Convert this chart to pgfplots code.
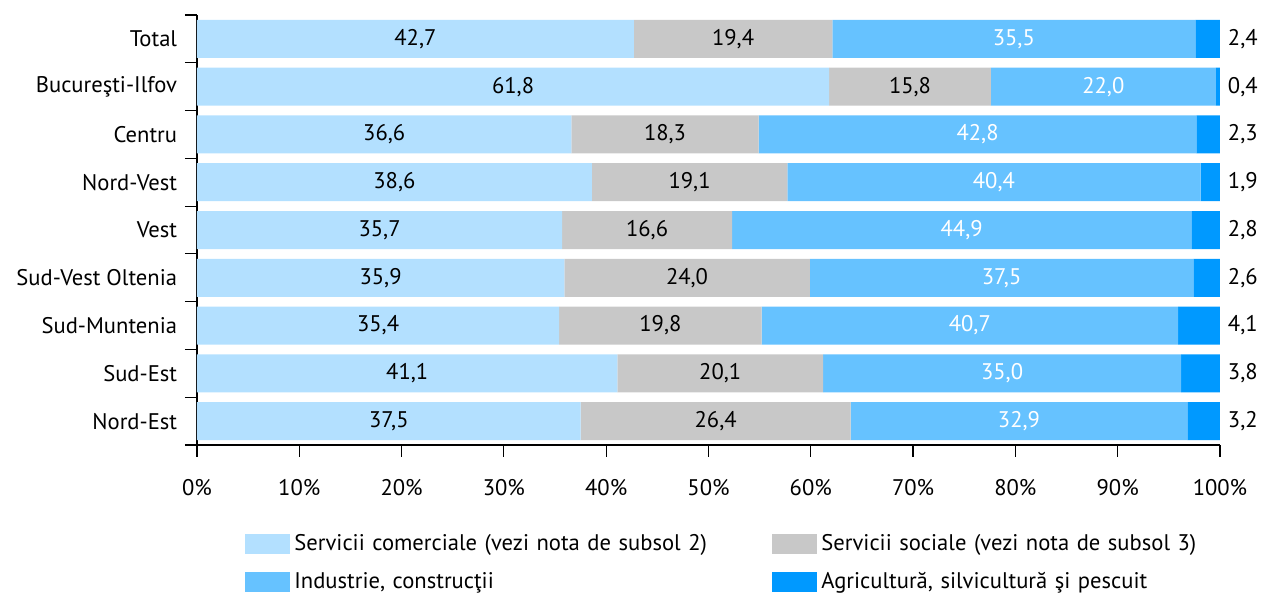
\documentclass[border=0pt]{standalone}
\usepackage{fontspec}
\setmainfont{PT Sans}
\usepackage{pgfplots}
\usepackage{pgfplotstable}
\pgfplotsset{compat=1.18}
\definecolor{comBlue}{RGB}{179,224,255}
\definecolor{socGray}{RGB}{200,200,200}
\definecolor{indBlue}{RGB}{102,194,255}
\definecolor{agrBlue}{RGB}{0,153,255}

% y: 8 = Total (top) ... 0 = Nord-Est (bottom)
\pgfplotstableread{
y com soc ind agr
8 42.7 19.4 35.5 2.4
7 61.8 15.8 22.0 0.4
6 36.6 18.3 42.8 2.3
5 38.6 19.1 40.4 1.9
4 35.7 16.6 44.9 2.8
3 35.9 24.0 37.5 2.6
2 35.4 19.8 40.7 4.1
1 41.1 20.1 35.0 3.8
0 37.5 26.4 32.9 3.2
}\regdata

\pgfplotsset{
  frame/.style={scale only axis, width=511.5pt, height=215pt,
    xmin=0, xmax=100, ymin=-0.5, ymax=8.5},
  lbl/.style={only marks, mark=none, point meta=explicit,
    nodes near coords={\pgfmathprintnumber[fixed,fixed zerofill,precision=1,use comma]{\pgfplotspointmeta}},
    nodes near coords style={font=\fontsize{11.3}{13.5}\selectfont, anchor=center, text=#1}},
}

\begin{document}
\fontsize{11.3}{13.5}\selectfont
\begin{tikzpicture}
\useasboundingbox (-98.5pt,-75pt) rectangle (534.5pt,222.5pt);
\begin{axis}[
    frame,
    xbar stacked, bar width=19pt,
    axis x line*=bottom, axis y line*=left,
    axis line style={line width=0.6pt},
    tick style={line width=0.6pt, black},
    tick align=outside, major tick length=6pt,
    xtick={0,10,...,100},
    xticklabel={\pgfmathprintnumber{\tick}\%},
    xticklabel style={yshift=-7pt},
    ytick={-0.5,0.5,...,8.5},
    y tick label as interval,
    yticklabels={Nord-Est,Sud-Est,Sud-Muntenia,Sud-Vest Oltenia,Vest,Nord-Vest,Centru,Bucureşti-Ilfov,Total},
    tick label style={font=\fontsize{11.3}{13.5}\selectfont},
    /pgf/number format/assume math mode=true,
    legend columns=2,
    legend style={draw=none, at={(0,0)}, anchor=north west, xshift=24pt, yshift=-42.5pt,
        inner sep=0pt, row sep=5pt,
        nodes={text width=237pt, align=left, font=\fontsize{11.3}{13.5}\selectfont}},
    legend image code/.code={\fill[#1] (0pt,-5pt) rectangle (22.5pt,5pt);},
]
\addplot[fill=comBlue, draw=none] table[x=com, y=y]{\regdata};
\addlegendentry{Servicii comerciale (vezi nota de subsol 2)}
\addplot[fill=socGray, draw=none] table[x=soc, y=y]{\regdata};
\addlegendentry{Servicii sociale (vezi nota de subsol 3)}
\addplot[fill=indBlue, draw=none] table[x=ind, y=y]{\regdata};
\addlegendentry{Industrie, construcţii}
\addplot[fill=agrBlue, draw=none] table[x=agr, y=y]{\regdata};
\addlegendentry{Agricultură, silvicultură şi pescuit}
\end{axis}
% value labels, placed on the same axis frame
\begin{axis}[frame, hide axis, /pgf/number format/assume math mode=true]
\addplot[lbl=black] table[x expr=\thisrow{com}/2, y=y, meta=com]{\regdata};
\addplot[lbl=black] table[x expr=\thisrow{com}+\thisrow{soc}/2, y=y, meta=soc]{\regdata};
\addplot[lbl=white] table[x expr=\thisrow{com}+\thisrow{soc}+\thisrow{ind}/2, y=y, meta=ind]{\regdata};
\addplot[lbl=black, nodes near coords style={anchor=west}]
    table[x expr=\thisrow{com}+\thisrow{soc}+\thisrow{ind}+\thisrow{agr}, y=y, meta=agr]{\regdata};
\end{axis}
\end{tikzpicture}
\end{document}
